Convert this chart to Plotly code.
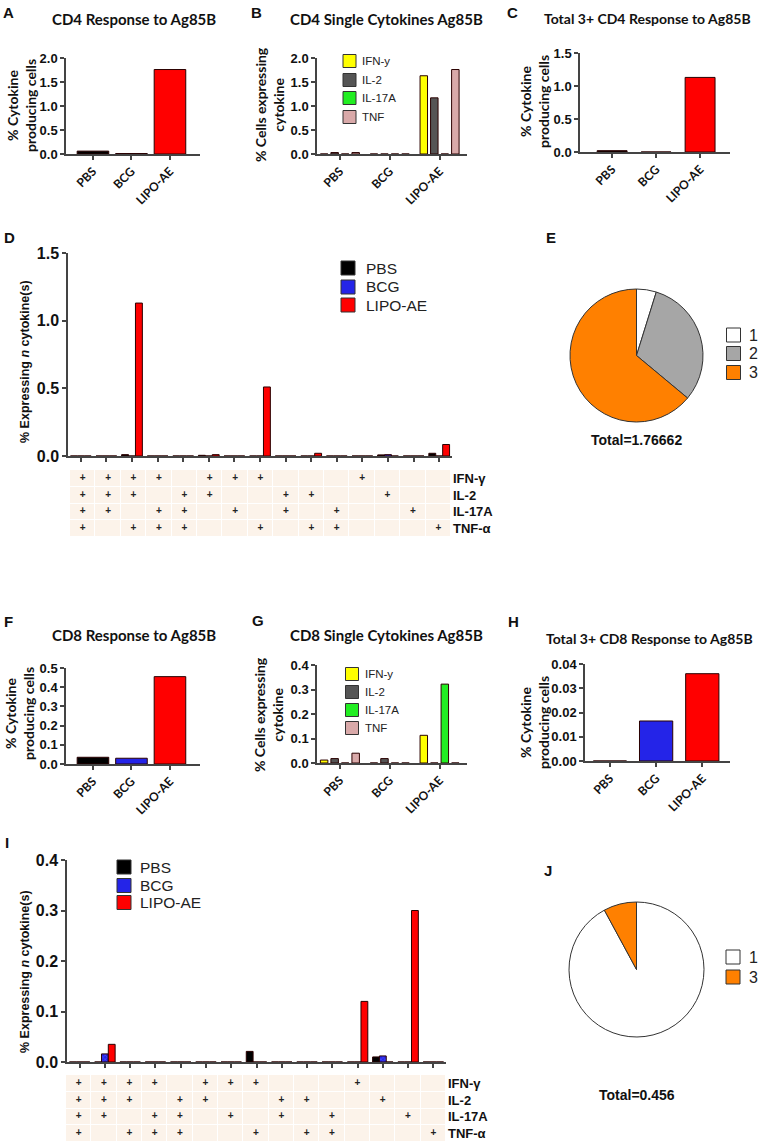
import plotly.graph_objects as go

W, H = 767, 1146
def fx(x): return x / W
def fy(y): return 1 - y / H

# ---------------- data ----------------
groups = ["PBS", "BCG", "LIPO-AE"]
cyto_names = ["IFN-y", "IL-2", "IL-17A", "TNF"]

# A: CD4 response
cd4_total = [0.06, 0.01, 1.76]
# B: CD4 single cytokines
cd4_ifn = [0.0, 0.0, 1.63]
cd4_il2 = [0.03, 0.0, 1.17]
cd4_il17 = [0.0, 0.0, 0.0]
cd4_tnf = [0.03, 0.0, 1.76]
# C: total 3+ CD4
cd4_3plus = [0.02, 0.0, 1.13]

# D / I combinations
combo_ids = ["1", "2", "3", "4", "5", "6", "7", "8", "9", "10", "11", "12", "13", "14", "15"]
row_labels = ["IFN-γ", "IL-2", "IL-17A", "TNF-α"]
ifn_row = ["+", "+", "+", "+", "", "+", "+", "+", "", "", "", "+", "", "", ""]
il2_row = ["+", "+", "+", "", "+", "+", "", "", "+", "+", "", "", "+", "", ""]
il17_row = ["+", "+", "", "+", "+", "", "+", "", "+", "", "+", "", "", "+", ""]
tnf_row = ["+", "", "+", "+", "+", "", "", "+", "", "+", "+", "", "", "", "+"]

cd4_poly_pbs = [0, 0, 0.01, 0, 0, 0.005, 0, 0, 0, 0, 0, 0, 0.008, 0, 0.02]
cd4_poly_bcg = [0, 0, 0, 0, 0, 0, 0, 0, 0, 0, 0, 0, 0.01, 0, 0]
cd4_poly_lipo = [0, 0, 1.13, 0, 0, 0.01, 0, 0.51, 0, 0.02, 0, 0, 0, 0, 0.085]

# E: CD4 pie
cd4_pie_labels = ["1", "2", "3"]
cd4_pie_values = [0.085, 0.552, 1.13]
cd4_pie_total = "Total=1.76662"

# F: CD8 response
cd8_total = [0.035, 0.03, 0.455]
# G: CD8 single cytokines
cd8_ifn = [0.012, 0.0, 0.113]
cd8_il2 = [0.018, 0.018, 0.0]
cd8_il17 = [0.0, 0.0, 0.322]
cd8_tnf = [0.04, 0.0, 0.0]
# H: total 3+ CD8
cd8_3plus = [0.0, 0.0165, 0.036]

# I: CD8 combinations
cd8_poly_pbs = [0, 0, 0, 0, 0, 0, 0, 0.021, 0, 0, 0, 0, 0.01, 0, 0]
cd8_poly_bcg = [0, 0.016, 0, 0, 0, 0, 0, 0, 0, 0, 0, 0, 0.012, 0, 0]
cd8_poly_lipo = [0, 0.035, 0, 0, 0, 0, 0, 0, 0, 0, 0, 0.12, 0, 0.30, 0]

# J: CD8 pie
cd8_pie_labels = ["1", "3"]
cd8_pie_values = [0.42, 0.036]
cd8_pie_total = "Total=0.456"

# ---------------- style ----------------
AX = "#444444"
OUT = "#2a0000"
C_PBS, C_BCG, C_LIPO = "#000000", "#2424e8", "#ff0000"
C_IFN, C_IL2, C_IL17, C_TNF = "#ffff00", "#555555", "#22ee22", "#d9a9a9"
PIE_COLS = {"1": "#ffffff", "2": "#a6a6a6", "3": "#ff8000"}
ARIAL = "Liberation Sans, Arial, sans-serif"
CALI = "Lato, Open Sans, sans-serif"
BCG_PATTERN = dict(shape="x", fgcolor="#7070ff", size=3, solidity=0.4)

fig = go.Figure()
layout = dict(
    width=W, height=H, margin=dict(l=0, r=0, t=0, b=0, autoexpand=False),
    plot_bgcolor="white", paper_bgcolor="white",
    barmode="overlay", showlegend=False,
    annotations=[], shapes=[],
)


def axname(n, a):
    return a if n == 1 else f"{a}{n}"


def add_axes(n, x0, x1, ytop, ybot, xrange, yrange, dtick, fmt, tfsize,
             xticklabels=True):
    layout[axname(n, "xaxis")] = dict(
        domain=[fx(x0), fx(x1)], anchor=axname(n, "y"), range=xrange,
        showline=True, linecolor=AX, linewidth=1.5, mirror=False,
        ticks="outside", ticklen=4, tickcolor=AX, tickwidth=1.5,
        showgrid=False, zeroline=False, tickangle=-45, automargin=False,
        showticklabels=xticklabels,
        tickfont=dict(family=CALI, size=12, color="#111", weight="bold"),
        fixedrange=True,
    )
    layout[axname(n, "yaxis")] = dict(
        domain=[fy(ybot), fy(ytop)], anchor=axname(n, "x"), range=yrange,
        showline=True, linecolor=AX, linewidth=1.5, automargin=False,
        ticks="outside", ticklen=4, tickcolor=AX, tickwidth=1.5,
        showgrid=False, zeroline=False, dtick=dtick, tick0=0, tickformat=fmt,
        tickfont=dict(family=ARIAL, size=tfsize, color="#111", weight="bold"),
        fixedrange=True,
    )


def bar(n, x, y, color, name=None, width=0.8, offset=None, pattern=None):
    marker = dict(color=color, line=dict(color=OUT, width=1))
    if pattern:
        marker["pattern"] = pattern
    kw = dict(x=x, y=y, marker=marker, width=width, name=name,
              xaxis=axname(n, "x"), yaxis=axname(n, "y"), showlegend=False)
    if offset is not None:
        kw["offset"] = offset
    fig.add_trace(go.Bar(**kw))


def annot(x, y, text, size, family=ARIAL, bold=True, angle=0, xanchor="center",
          color="#111"):
    layout["annotations"].append(dict(
        x=fx(x), y=fy(y), xref="paper", yref="paper", text=text,
        showarrow=False, textangle=angle, xanchor=xanchor, yanchor="middle",
        font=dict(family=family, size=size, color=color,
                  weight="bold" if bold else "normal"),
    ))


def legend_box(xc, ys, labels, colors, text_x, size, sq=13):
    for y, lab, col in zip(ys, labels, colors):
        layout["shapes"].append(dict(
            type="rect", xref="paper", yref="paper",
            x0=fx(xc - sq / 2), x1=fx(xc + sq / 2),
            y0=fy(y + sq / 2), y1=fy(y - sq / 2),
            fillcolor=col, line=dict(color="#333333", width=1),
        ))
        annot(text_x, y, lab, size, bold=False, xanchor="left", color="#222")


# ---------- A ----------
add_axes(1, 66, 200, 58, 154, [-0.7, 2.78], [0, 2.0], 0.5, ".1f", 13)
bar(1, groups, cd4_total, [C_PBS, C_BCG, C_LIPO], width=0.82)
annot(134, 19, "CD4 Response to Ag85B", 15, CALI)
annot(21, 106, "% Cytokine<br>producing cells", 14, CALI, angle=-90)
annot(8, 12, "A", 15)

# ---------- B ----------
add_axes(2, 317, 467, 58, 154, [-0.46, 2.55], [0, 2.0], 0.5, ".1f", 13)
single_cols = [C_IFN, C_IL2, C_IL17, C_TNF]
offs = [-0.392, -0.181, 0.030, 0.241]
for vals, col, nm, of in zip([cd4_ifn, cd4_il2, cd4_il17, cd4_tnf],
                             single_cols, cyto_names, offs):
    bar(2, groups, vals, col, name=nm, width=0.15, offset=of)
legend_box(349.5, [61, 80, 98, 117], cyto_names, single_cols, 360, 11.5)
annot(386, 19, "CD4 Single Cytokines Ag85B", 15, CALI)
annot(269, 105, "% Cells expressing<br>cytokine", 14, CALI, angle=-90)
annot(256, 12, "B", 15)

# ---------- C ----------
add_axes(3, 580, 730, 53, 152, [-0.73, 2.68], [0, 1.5], 0.5, ".1f", 13)
bar(3, groups, cd4_3plus, [C_PBS, C_BCG, C_LIPO], width=0.68)
annot(647, 19, "Total 3+ CD4 Response to Ag85B", 14, CALI)
annot(534, 102, "% Cytokine<br>producing cells", 14, CALI, angle=-90)
annot(512, 12, "C", 15)

# ---------- D ----------
add_axes(4, 68, 452, 253, 456, [-0.5, 14.5], [0, 1.5], 0.5, ".1f", 16,
         xticklabels=False)
poly_offs = [-0.405, -0.135, 0.135]
poly_cols = [C_PBS, C_BCG, C_LIPO]
for vals, col, nm, of, pat in zip([cd4_poly_pbs, cd4_poly_bcg, cd4_poly_lipo],
                                  poly_cols, groups, poly_offs,
                                  [None, BCG_PATTERN, None]):
    bar(4, combo_ids, vals, col, name=nm, width=0.27, offset=of, pattern=pat)
legend_box(348, [268, 287, 305], groups, poly_cols, 364, 15.5, sq=14)
annot(25, 362, "% Expressing <i>n</i> cytokine(s)", 12.5, angle=-90)
annot(9, 237, "D", 15)


def add_table(n, x0, x1, ytop, ybot):
    layout[axname(n, "xaxis")] = dict(
        domain=[fx(x0), fx(x1)], anchor=axname(n, "y"), range=[-0.5, 14.5],
        showline=False, showgrid=False, zeroline=False, showticklabels=False,
        ticks="", fixedrange=True, automargin=False,
    )
    layout[axname(n, "yaxis")] = dict(
        domain=[fy(ybot), fy(ytop)], anchor=axname(n, "x"), range=[3.5, -0.5],
        showline=False, showgrid=False, zeroline=False, side="right",
        ticks="", ticklabelstandoff=1, automargin=False,
        tickfont=dict(family=ARIAL, size=13, color="#111", weight="bold"),
        fixedrange=True,
    )
    fig.add_trace(go.Heatmap(
        x=combo_ids, y=row_labels, z=[[1] * len(combo_ids)] * len(row_labels),
        colorscale=[[0, "#fcf3ea"], [1, "#fcf3ea"]], showscale=False,
        xgap=1, ygap=1, hoverinfo="skip",
        xaxis=axname(n, "x"), yaxis=axname(n, "y"),
    ))
    xs, ys, ts = [], [], []
    for r, row in zip(row_labels, [ifn_row, il2_row, il17_row, tnf_row]):
        for c, t in zip(combo_ids, row):
            if t:
                xs.append(c); ys.append(r); ts.append(t)
    fig.add_trace(go.Scatter(
        x=xs, y=ys, text=ts, mode="text", showlegend=False,
        textfont=dict(family=ARIAL, size=10, color="#222222", weight="bold"),
        xaxis=axname(n, "x"), yaxis=axname(n, "y"), hoverinfo="skip",
    ))


add_table(5, 70, 451, 470, 537)

# ---------- E ----------
fig.add_trace(go.Pie(
    labels=cd4_pie_labels, values=cd4_pie_values, sort=False,
    direction="clockwise", rotation=0, textinfo="none",
    marker=dict(colors=[PIE_COLS[l] for l in cd4_pie_labels],
                line=dict(color="#333333", width=1)),
    domain=dict(x=[fx(570), fx(703)], y=[fy(422), fy(289)]),
    showlegend=False,
))
legend_box(733.5, [335, 353.5, 372.5], cd4_pie_labels,
           [PIE_COLS[l] for l in cd4_pie_labels], 747, 16, sq=14)
annot(636, 440, cd4_pie_total, 14)
annot(551, 237, "E", 15)

# ---------- F ----------
add_axes(6, 66, 200, 668, 764, [-0.7, 2.78], [0, 0.5], 0.1, ".1f", 13)
bar(6, groups, cd8_total, [C_PBS, C_BCG, C_LIPO], width=0.82)
annot(134, 635, "CD8 Response to Ag85B", 15, CALI)
annot(19, 714, "% Cytokine<br>producing cells", 14, CALI, angle=-90)
annot(8, 621, "F", 15)

# ---------- G ----------
add_axes(7, 317, 467, 665, 763, [-0.46, 2.55], [0, 0.4], 0.1, ".1f", 13)
for vals, col, nm, of in zip([cd8_ifn, cd8_il2, cd8_il17, cd8_tnf],
                             single_cols, cyto_names, offs):
    bar(7, groups, vals, col, name=nm, width=0.15, offset=of)
legend_box(352, [674, 692, 710, 728], cyto_names, single_cols, 363, 11.5)
annot(387, 635, "CD8 Single Cytokines Ag85B", 15, CALI)
annot(268, 715, "% Cells expressing<br>cytokine", 14, CALI, angle=-90)
annot(258, 620, "G", 15)

# ---------- H ----------
add_axes(8, 585, 730, 664, 761, [-0.54, 2.6], [0, 0.04], 0.01, ".2f", 13)
bar(8, groups, cd8_3plus, [C_PBS, C_BCG, C_LIPO], width=0.72)
annot(649, 638, "Total 3+ CD8 Response to Ag85B", 14, CALI)
annot(534, 723, "% Cytokine<br>producing cells", 14, CALI, angle=-90)
annot(513, 621, "H", 15)

# ---------- I ----------
add_axes(9, 67, 446, 860, 1062, [-0.5, 14.5], [0, 0.4], 0.1, ".1f", 16,
         xticklabels=False)
for vals, col, nm, of, pat in zip([cd8_poly_pbs, cd8_poly_bcg, cd8_poly_lipo],
                                  poly_cols, groups, poly_offs,
                                  [None, BCG_PATTERN, None]):
    bar(9, combo_ids, vals, col, name=nm, width=0.27, offset=of, pattern=pat)
legend_box(124, [867, 885.5, 902.5], groups, poly_cols, 138, 15.5, sq=14)
annot(25, 972, "% Expressing <i>n</i> cytokine(s)", 12.5, angle=-90)
annot(7, 842, "I", 15)

add_table(10, 66, 446, 1075, 1142)

# ---------- J ----------
fig.add_trace(go.Pie(
    labels=cd8_pie_labels, values=cd8_pie_values, sort=False,
    direction="clockwise", rotation=0, textinfo="none",
    marker=dict(colors=[PIE_COLS[l] for l in cd8_pie_labels],
                line=dict(color="#333333", width=1)),
    domain=dict(x=[fx(569), fx(704)], y=[fy(1037), fy(902)]),
    showlegend=False,
))
legend_box(733, [957, 977], cd8_pie_labels,
           [PIE_COLS[l] for l in cd8_pie_labels], 747, 16, sq=14)
annot(637, 1095, cd8_pie_total, 14)
annot(548, 870, "J", 15)

fig.update_layout(**layout)
fig.write_html(
    "out.html",
    config={"displayModeBar": False},
    post_script="document.body.style.margin='0';document.body.style.overflow='hidden';",
)
